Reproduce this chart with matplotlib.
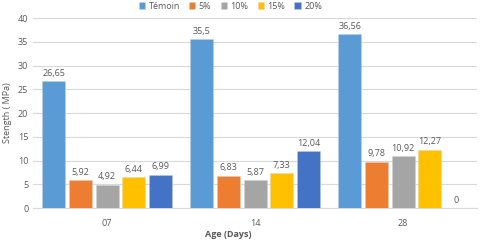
import numpy as np
import matplotlib.pyplot as plt

ages = ['07', '14', '28']
series = ['Témoin', '5%', '10%', '15%', '20%']
temoin = [26.65, 35.5, 36.56]
p5 = [5.92, 6.83, 9.78]
p10 = [4.92, 5.87, 10.92]
p15 = [6.44, 7.33, 12.27]
p20 = [6.99, 12.04, 0]
colors = ['#5B9BD5', '#ED7D31', '#A5A5A5', '#FFC000', '#4472C4']

plt.rcParams['font.family'] = ['Open Sans', 'DejaVu Sans']
txt = '#595959'

fig = plt.figure(figsize=(4.8, 2.44), dpi=100)
ax = fig.add_axes([0.069, 0.1475, 0.925, 0.7785])

x = np.arange(len(ages))
step = 0.18
w = 0.155
for k, vals in enumerate([temoin, p5, p10, p15, p20]):
    pos = x + (k - 2) * step
    bars = ax.bar(pos, vals, width=w, color=colors[k], label=series[k], zorder=3,
                  edgecolor='#cfcfcf', linewidth=0.6, linestyle=':')
    for b, v in zip(bars, vals):
        lab = ('%g' % v).replace('.', ',')
        ax.text(b.get_x() + b.get_width() / 2, v + 0.7, lab, ha='center', va='bottom',
                fontsize=6.5, color=txt)

ax.set_xlim(-0.5, 2.5)
ax.set_ylim(0, 40)
ax.set_yticks(range(0, 41, 5))
ax.set_xticks(x)
ax.set_xticklabels(ages)
ax.tick_params(axis='both', length=0, labelsize=6.5, colors=txt)
ax.tick_params(axis='x', pad=8)
ax.grid(axis='y', color='#D9D9D9', linewidth=0.8, zorder=0)
for s in ['top', 'right', 'left']:
    ax.spines[s].set_visible(False)
ax.spines['bottom'].set_color('#D9D9D9')

ax.set_xlabel('Age (Days)', fontsize=6.5, color=txt, fontweight='bold')
ax.set_ylabel('Stength ( MPa)', fontsize=6.5, color=txt, labelpad=4)
ax.xaxis.set_label_coords(0.44, -0.115)

fig.legend(loc='center', bbox_to_anchor=(0.48, 0.975), ncol=5, frameon=False,
           fontsize=6.5, labelcolor=txt, handlelength=0.7, handleheight=0.7,
           handletextpad=0.4, columnspacing=1.0)

plt.savefig('out.png', dpi=100)
